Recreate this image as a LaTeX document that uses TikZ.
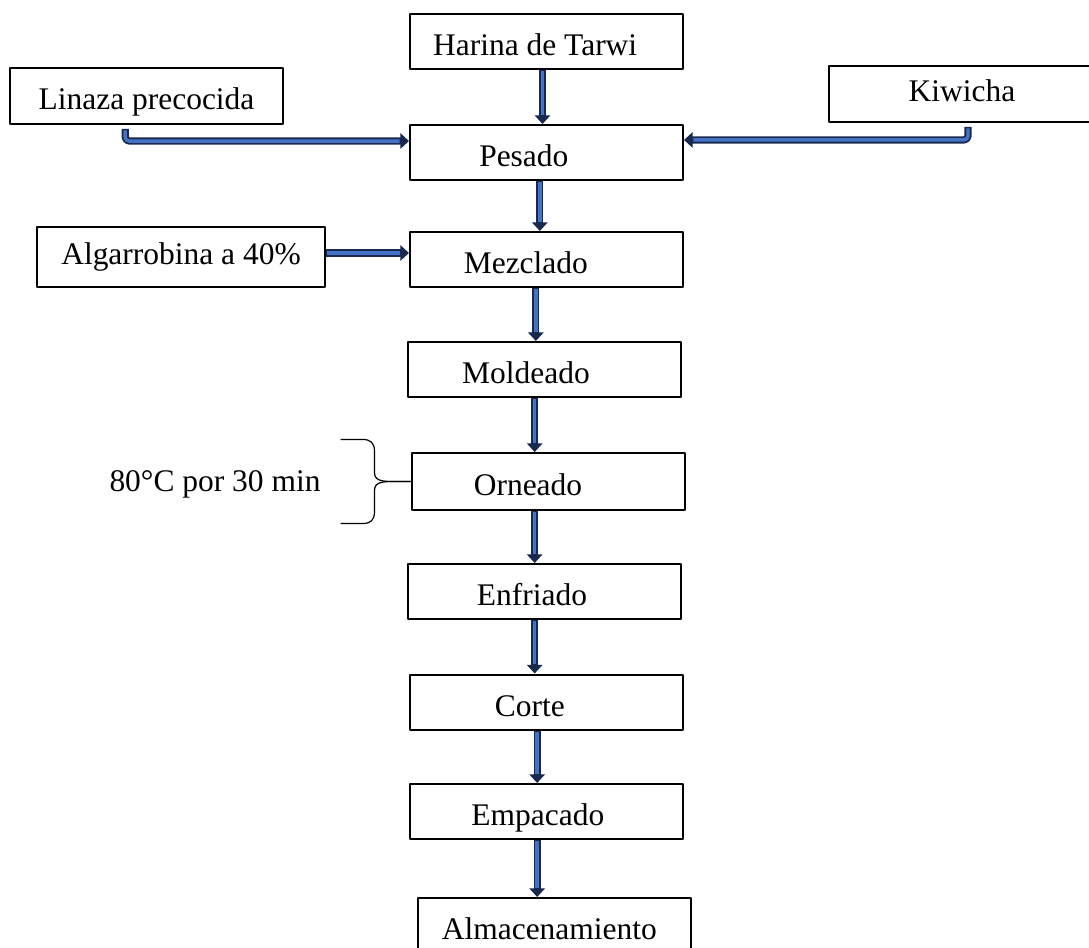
\documentclass[tikz,border=0pt]{standalone}
\usepackage{fontspec}
\setmainfont{Liberation Serif}
\usetikzlibrary{arrows.meta}
\definecolor{Aedge}{RGB}{24,40,78}
\definecolor{Afill}{RGB}{68,114,196}
\begin{document}
\begin{tikzpicture}[x=0.75pt,y=-0.75pt,line join=round,
  box/.style={draw,line width=1.5pt,inner sep=0pt,font=\fontsize{23.6}{28}\selectfont,text height=16pt,text depth=4pt},
  lowtext/.style={text height=21pt,text depth=0pt},
  stepbox/.style={box,lowtext,minimum width=204.75pt,minimum height=41.25pt},
  nudge/.style={execute at begin node={\hspace*{#1}}},
  flow/.style={draw=Aedge,line width=5.4pt,-{Triangle[length=6.5pt,width=11.5pt]},
    postaction={draw=Afill,line width=2.6pt,-,shorten >=7pt,shorten <=1pt}}]
\path[use as bounding box] (0,0) rectangle (1089,948);
\node[stepbox,nudge=-17pt] (harina) at (546.5,41.5) {Harina de Tarwi};
\node[box,lowtext,minimum width=204.75pt,minimum height=42pt] (linaza) at (146.5,96) {Linaza precocida};
\node[box,minimum width=199.5pt,minimum height=42pt] (kiwicha) at (962,94) {Kiwicha};
\node[stepbox,nudge=-34pt] (pesado) at (546.5,152.5) {Pesado};
\node[box,minimum width=216pt,minimum height=45pt] (algarrobina) at (181,257) {Algarrobina a 40\%};
\node[stepbox,nudge=-31pt] (mezclado) at (546.5,259.5) {Mezclado};
\node[stepbox,nudge=-27pt] (moldeado) at (544,369.5) {Moldeado};
\node[stepbox,nudge=-30pt,minimum height=42.75pt] (orneado) at (548,481.5) {Orneado};
\node[stepbox,nudge=-18pt] (enfriado) at (544,591.5) {Enfriado};
\node[stepbox,nudge=-25pt] (corte) at (546.5,702) {Corte};
\node[stepbox,nudge=-13pt] (empacado) at (546.5,811.5) {Empacado};
\node[stepbox,nudge=-7pt] (almacen) at (554,925.5) {Almacenamiento};
\node[font=\fontsize{23.6}{28}\selectfont] (temp) at (215,484) {80°C por 30 min};
\draw[flow] ([xshift=-3pt]harina.south) -- ([xshift=-3pt]harina.south |- pesado.north);
\draw[flow,rounded corners=3pt] ([xshift=-16pt,yshift=-3pt]linaza.south) |- ([yshift=8.6pt]pesado.west);
\draw[flow,rounded corners=3pt] ([xshift=4.5pt,yshift=-3pt]kiwicha.south) |- ([yshift=9.4pt]pesado.east);
\draw[flow] ([yshift=3pt]algarrobina.east) -- ([yshift=3pt]algarrobina.east -| mezclado.west);
\draw[flow] ([xshift=-5pt]pesado.south) -- ([xshift=-5pt]pesado.south |- mezclado.north);
\draw[flow] ([xshift=-8pt]mezclado.south) -- ([xshift=-8pt]mezclado.south |- moldeado.north);
\draw[flow] ([xshift=-7pt]moldeado.south) -- ([xshift=-7pt]moldeado.south |- orneado.north);
\draw[flow] ([xshift=-10pt]orneado.south) -- ([xshift=-10pt]orneado.south |- enfriado.north);
\draw[flow] ([xshift=-7pt]enfriado.south) -- ([xshift=-7pt]enfriado.south |- corte.north);
\draw[flow] ([xshift=-7pt]corte.south) -- ([xshift=-7pt]corte.south |- empacado.north);
\draw[flow] ([xshift=-7pt]empacado.south) -- ([xshift=-7pt]empacado.south |- almacen.north);
\draw[line width=0.9pt] (orneado.west) -- ++(-17,0) .. controls ++(-12,0) and ++(0,8) .. ++(-19,-9)
  -- ++(0,-21) .. controls ++(0,-9) and ++(8,0) .. ++(-12,-12) -- ++(-22,0);
\draw[line width=0.9pt] (orneado.west) -- ++(-17,0) .. controls ++(-12,0) and ++(0,-8) .. ++(-19,9)
  -- ++(0,21) .. controls ++(0,9) and ++(8,0) .. ++(-12,12) -- ++(-22,0);
\end{tikzpicture}
\end{document}
